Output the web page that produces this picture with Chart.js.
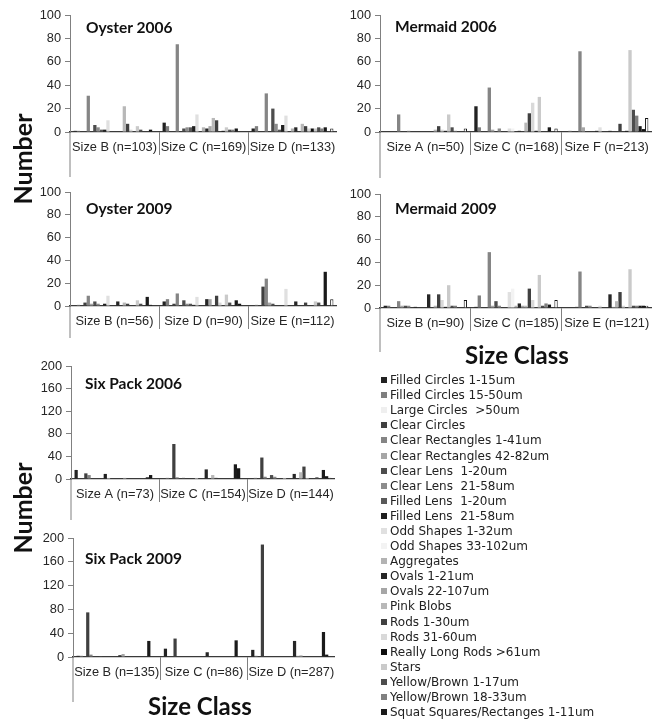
<!DOCTYPE html>
<html>
<head>
<meta charset="utf-8">
<script src="https://cdn.jsdelivr.net/npm/chart.js@4.4.1/dist/chart.umd.min.js"></script>
<style>
  html, body { margin: 0; padding: 0; background: #fff; }
  body { width: 663px; height: 719px; position: relative; overflow: hidden; }
  .panel { position: absolute; }
  .ptitle { position: absolute; font-family: Lato, sans-serif; font-weight: 700; font-size: 15.5px; color: #111; line-height: 20px; white-space: nowrap; }
  .axtitle { position: absolute; font-family: Lato, sans-serif; font-weight: 700; font-size: 24px; color: #111; white-space: nowrap; line-height: 30px; transform: translate(-50%, -50%); }
  .axtitle.vert { font-size: 25px; transform: translate(-50%, -50%) rotate(-90deg); }
  #legend { position: absolute; left: 381px; top: 372.5px; font-family: "DejaVu Sans", Verdana, "Bitstream Vera Sans", sans-serif; font-size: 12px; color: #222; }
  .li { height: 15.1px; display: flex; align-items: center; white-space: pre; }
  .sw { width: 6px; height: 6px; margin-right: 3px; flex: none; }
</style>
</head>
<body>

<div class="panel" style="left:0;top:0;width:337px;height:182px"><canvas id="oyster2006"></canvas></div>
<div class="panel" style="left:310px;top:0;width:342px;height:182px"><canvas id="mermaid2006"></canvas></div>
<div class="panel" style="left:0;top:175px;width:337px;height:181px"><canvas id="oyster2009"></canvas></div>
<div class="panel" style="left:310px;top:175px;width:342px;height:183px"><canvas id="mermaid2009"></canvas></div>
<div class="panel" style="left:0;top:350px;width:335px;height:179px"><canvas id="sixpack2006"></canvas></div>
<div class="panel" style="left:0;top:515px;width:335px;height:192px"><canvas id="sixpack2009"></canvas></div>

<div class="ptitle" style="left:86px;top:17px">Oyster 2006</div>
<div class="ptitle" style="left:395px;top:16px">Mermaid 2006</div>
<div class="ptitle" style="left:86px;top:198px">Oyster 2009</div>
<div class="ptitle" style="left:395px;top:198px">Mermaid 2009</div>
<div class="ptitle" style="left:85px;top:373px">Six Pack 2006</div>
<div class="ptitle" style="left:85px;top:548px">Six Pack 2009</div>

<div class="axtitle vert" style="left:22px;top:159px">Number</div>
<div class="axtitle vert" style="left:22px;top:508px">Number</div>
<div class="axtitle" style="left:517px;top:355px">Size Class</div>
<div class="axtitle" style="left:200px;top:706px">Size Class</div>

<div id="legend"></div>

<script>
// particle classes (one bar series each); the last two series have no legend row
const seriesNames = [
  'Filled Circles 1-15um', 'Filled Circles 15-50um', 'Large Circles  >50um', 'Clear Circles',
  'Clear Rectangles 1-41um', 'Clear Rectangles 42-82um', 'Clear Lens  1-20um', 'Clear Lens  21-58um',
  'Filled Lens  1-20um', 'Filled Lens  21-58um', 'Odd Shapes 1-32um', 'Odd Shapes 33-102um',
  'Aggregates', 'Ovals 1-21um', 'Ovals 22-107um', 'Pink Blobs', 'Rods 1-30um', 'Rods 31-60um',
  'Really Long Rods >61um', 'Stars', 'Yellow/Brown 1-17um', 'Yellow/Brown 18-33um',
  'Squat Squares/Rectanges 1-11um', '', ''
];
const seriesColors = [
  '#222222', '#7f7f7f', '#efefef', '#404040',
  '#858585', '#a6a6a6', '#4d4d4d', '#8c8c8c',
  '#595959', '#1f1f1f', '#e0e0e0', '#f3f3f3',
  '#b3b3b3', '#262626', '#a6a6a6', '#b8b8b8', '#404040', '#d9d9d9',
  '#0d0d0d', '#cacaca', '#4d4d4d', '#808080',
  '#1a1a1a', '#151515', '#ffffff'
];

// y-axis tick values
const ticksTo100 = [0, 20, 40, 60, 80, 100];
const ticksTo200 = [0, 40, 80, 120, 160, 200];

// Oyster 2006
const oyster2006Labels = ['Size B (n=103)', 'Size C (n=169)', 'Size D (n=133)'];
const oyster2006B = [1,1,0,0,31,0,6,4,2,2,10,0,0,0,0,22,7,2,0,5,2,0,0,2,0];
const oyster2006C = [8,5,0,0,75,0,3,4,4,5,15,0,4,3,5,12,10,0,1,4,2,2,3,0,0];
const oyster2006D = [3,5,0,0,33,0,20,7,2,6,14,0,3,4,0,7,5,3,3,3,4,3,4,0,3];

// Mermaid 2006
const mermaid2006Labels = ['Size A (n=50)', 'Size C (n=168)', 'Size F (n=213)'];
const mermaid2006A = [0,0,0,0,15,0,0,1,0,0,0,0,0,0,0,2,5,2,1,15,4,1,0,0,3];
const mermaid2006C = [22,4,0,0,38,2,0,3,0,0,3,3,0,1,0,8,16,25,1,30,0,0,4,0,3];
const mermaid2006F = [0,1,0,0,69,4,0,0,0,1,4,0,0,1,0,0,7,0,1,70,19,14,5,2.5,12];

// Oyster 2009
const oyster2009Labels = ['Size B (n=56)', 'Size D (n=90)', 'Size E (n=112)'];
const oyster2009B = [0,1,0,3,9,2,4,2,0,2,9,0,0,4,0,3,2,0,0,5,2,0,8,1,0];
const oyster2009D = [4,6,0,2,11,0,5,2,2,1,8,0,0,6,6,0,9,3,0,10,3,0,5,2,0];
const oyster2009E = [0,1,0,17,24,3,2,0,0,0,15,0,0,4,0,0,3,0,0,4,3,0,30,0,6];

// Mermaid 2009
const mermaid2009Labels = ['Size B (n=90)', 'Size C (n=185)', 'Size E (n=121)'];
const mermaid2009B = [2,2,0,0,6,2,2,2,0,1,0,0,0,12,0,2,12,7,1,20,2,2,0,0,7];
const mermaid2009C = [1,11,0,0,49,2,6,2,0,0,14,17,2,4,2,2,17,7,0,29,2,4,3,0,7];
const mermaid2009E = [0,0,0,1,32,0,2,2,0,0,2,0,0,12,1,6,14,2,0,34,2,2,2,2,2];

// Six Pack 2006
const sixpack2006Labels = ['Size A (n=73)', 'Size C (n=154)', 'Size D (n=144)'];
const sixpack2006A = [16,0,0,10,7,0,1,0,0,9,2,0,0,0,0,2,1,0,0,0,0,0,3,7,0];
const sixpack2006C = [0,2,0,62,3,0,2,0,0,0,2,0,0,17,0,7,2,0,0,0,0,0,26,19,0];
const sixpack2006D = [1,2,0,38,4,0,7,4,0,0,2,0,0,9,0,12,22,2,0,0,3,0,16,5,2];

// Six Pack 2009
const sixpack2009Labels = ['Size B (n=135)', 'Size C (n=86)', 'Size D (n=287)'];
const sixpack2009B = [2,2,0,75,4,0,0,1,0,0,0,0,0,3,5,0,0,0,0,0,0,0,27,0,0];
const sixpack2009C = [14,0,0,31,0,0,0,0,0,0,0,0,0,8,0,0,0,0,0,0,0,0,28,0,0];
const sixpack2009D = [12,2,0,189,0,0,0,0,0,0,0,0,0,27,2,3,0,0,0,0,0,0,42,4,0];

Chart.defaults.font.family = '"Liberation Sans", Arial, sans-serif';
Chart.defaults.font.size = 12.8;
Chart.defaults.color = '#262626';

const AXIS_GREY = '#808080';

// continues the y axis line below the category axis
const axisTail = {
  id: 'axisTail',
  afterDraw(chart, args, opts) {
    const ctx = chart.ctx;
    const s = chart.scales.y;
    const x = Math.round(s.right - 0.5);
    ctx.save();
    ctx.strokeStyle = AXIS_GREY;
    ctx.lineWidth = 1;
    ctx.beginPath();
    ctx.moveTo(x, chart.chartArea.bottom);
    ctx.lineTo(x, chart.chartArea.bottom + opts.length);
    ctx.stroke();
    ctx.restore();
  }
};

function makePanel(id, labels, groups, tickValues, yAxisWidth, padTop, tail) {
  const datasets = seriesNames.map((name, i) => ({
    label: name,
    data: groups.map(g => g[i] || null),
    backgroundColor: seriesColors[i],
    borderColor: i === 24 ? '#111' : seriesColors[i],
    borderWidth: i === 24 ? 1 : 0,
    categoryPercentage: 0.92,
    barPercentage: 1.0
  }));
  new Chart(document.getElementById(id), {
    type: 'bar',
    data: { labels, datasets },
    plugins: [axisTail],
    options: {
      responsive: true,
      maintainAspectRatio: false,
      animation: false,
      events: [],
      layout: { padding: { top: padTop, right: 0, bottom: 0, left: 0 } },
      plugins: {
        legend: { display: false },
        tooltip: { enabled: false },
        axisTail: { length: tail }
      },
      scales: {
        x: {
          grid: {
            display: true,
            drawOnChartArea: false,
            drawTicks: true,
            tickLength: 23,
            tickWidth: 1,
            tickColor: ctx => (ctx.index === 1 || ctx.index === 2) ? AXIS_GREY : 'rgba(0,0,0,0)'
          },
          border: { display: true, color: '#3a3a3a', width: 1.3 },
          ticks: { padding: -15, maxRotation: 0, autoSkip: false, color: '#262626' },
          afterFit: s => { s.height = 50; }
        },
        y: {
          min: 0,
          max: tickValues[tickValues.length - 1],
          afterBuildTicks: s => { s.ticks = tickValues.map(v => ({ value: v })); },
          grid: { drawOnChartArea: false, drawTicks: true, tickLength: 5, tickColor: AXIS_GREY },
          border: { display: true, color: AXIS_GREY, width: 1 },
          ticks: { padding: 4, color: '#262626' },
          afterFit: s => { s.width = yAxisWidth; }
        }
      }
    }
  });
}

makePanel('oyster2006', oyster2006Labels, [oyster2006B, oyster2006C, oyster2006D], ticksTo100, 70, 15, 45);
makePanel('mermaid2006', mermaid2006Labels, [mermaid2006A, mermaid2006C, mermaid2006F], ticksTo100, 70, 15, 46);
makePanel('oyster2009', oyster2009Labels, [oyster2009B, oyster2009D, oyster2009E], ticksTo100, 70, 17, 32);
makePanel('mermaid2009', mermaid2009Labels, [mermaid2009B, mermaid2009C, mermaid2009E], ticksTo100, 70, 19, 44);
makePanel('sixpack2006', sixpack2006Labels, [sixpack2006A, sixpack2006C, sixpack2006D], ticksTo200, 71, 16, 41);
makePanel('sixpack2009', sixpack2009Labels, [sixpack2009B, sixpack2009C, sixpack2009D], ticksTo200, 73, 23, 45);

// legend list of the named series
const legend = document.getElementById('legend');
seriesNames.forEach((name, i) => {
  if (!name) return;
  const row = document.createElement('div');
  row.className = 'li';
  const sw = document.createElement('span');
  sw.className = 'sw';
  sw.style.background = seriesColors[i];
  row.appendChild(sw);
  row.appendChild(document.createTextNode(name));
  legend.appendChild(row);
});
</script>
</body>
</html>
